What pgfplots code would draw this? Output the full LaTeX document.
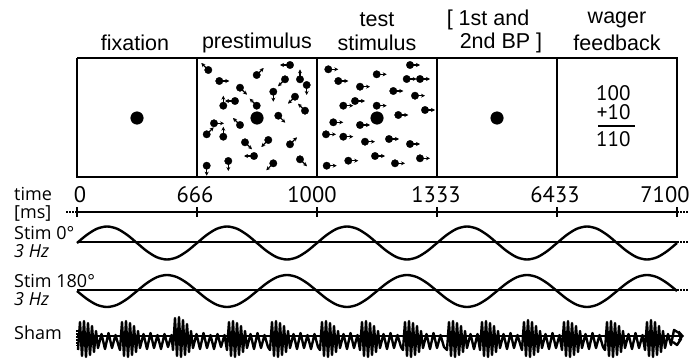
\documentclass[border=0pt]{standalone}
\usepackage{fontspec}
\setmainfont{Liberation Sans}
\newfontfamily\lowfont{PT Sans}
\newfontfamily\leftfont{Open Sans}
\usepackage{pgfplots}
\usepackage{pgfplotstable}
\pgfplotsset{compat=1.18}
\usetikzlibrary{arrows.meta}

\pgfplotstableread{
x y u v
208.3 70 -7 -7
219.3 81 10 0
240 87.7 7 7
256.7 75 7 -7
290 65 -10 0
285 79.3 -7 7
300 79.3 0 -10
306.7 85 0 10
273.3 91.7 0 10
295 96.7 -7 7
223.3 105.7 0 -10
235 101 -10 0
256.7 105.7 -7 -7
305 110.7 -7 -7
278.3 115.7 7 7
214 123.3 10 0
240 125 -7 -7
206.7 134.3 7 -7
223.3 136.7 0 -10
245 142.3 7 7
268.3 140 -7 7
290 144.3 7 -7
254 156 -10 0
300 159.3 7 7
228.3 161 0 10
273.3 163.3 -7 7
206.7 165.7 0 10
}\prestim

\pgfplotstableread{
x y u v
328.3 69.3 10 0
410 65 10 0
338.3 81 10 0
376.7 74.3 10 0
406.7 79 10 0
420 79 10 0
360 86.7 10 0
393.3 91 10 0
415 95.7 10 0
343.3 105.7 10 0
355 101 10 0
376.7 105.7 10 0
425 110 10 0
398.3 115 10 0
333.3 122.3 10 0
360 125 10 0
326 134.3 10 0
343.3 136.7 10 0
365 141.7 10 0
389 139 10 0
410 144 10 0
375 156 10 0
348.3 160.7 10 0
395 163.3 10 0
420 158.3 10 0
326.7 165.7 10 0
}\teststim

\pgfplotstableread{
x y
77 243
87 234.75
97 228.71
107 226.5
117 228.71
127 234.75
137 243
147 251.25
157 257.29
167 259.5
177 257.29
187 251.25
197 243
207 234.75
217 228.71
227 226.5
237 228.71
247 234.75
257 243
267 251.25
277 257.29
287 259.5
297 257.29
307 251.25
317 243
327 234.75
337 228.71
347 226.5
357 228.71
367 234.75
377 243
387 251.25
397 257.29
407 259.5
417 257.29
427 251.25
437 243
447 234.75
457 228.71
467 226.5
477 228.71
487 234.75
497 243
507 251.25
517 257.29
527 259.5
537 257.29
547 251.25
557 243
567 234.75
577 228.71
587 226.5
597 228.71
607 234.75
617 243
627 251.25
637 257.29
647 259.5
657 257.29
667 251.25
677 243
}\stimzero

\pgfplotstableread{
x y
77 291
87 299
97 304.86
107 307
117 304.86
127 299
137 291
147 283
157 277.14
167 275
177 277.14
187 283
197 291
207 299
217 304.86
227 307
237 304.86
247 299
257 291
267 283
277 277.14
287 275
297 277.14
307 283
317 291
327 299
337 304.86
347 307
357 304.86
367 299
377 291
387 283
397 277.14
407 275
417 277.14
427 283
437 291
447 299
457 304.86
467 307
477 304.86
487 299
497 291
507 283
517 277.14
527 275
537 277.14
547 283
557 291
567 299
577 304.86
587 307
597 304.86
607 299
617 291
627 283
637 277.14
647 275
657 277.14
667 283
677 291
}\stimpi

\pgfplotstableread{
x y
78 350
80 322
82 356
84 321
86 357
88 323
90 355
92 326
94 352
96 331
98 348
101.5 334
105 349
108.5 333
112 348
115.5 335
119 347
120 350
122 322
124 356
126 321
128 357
130 323
132 355
134 326
136 352
138 331
140 348
143.5 334
147 349
150.5 333
154 348
157.5 335
161 349
164.5 334
168 347
171.5 335
173 350
175 318
177 356
179 317
181 357
183 320
185 355
187 324
189 352
191 331
193 348
196.5 334
200 349
203.5 333
207 348
210.5 335
214 349
217.5 334
221 347
224.5 335
227 350
229 322
231 356
233 321
235 357
237 323
239 355
241 326
243 352
245 331
247 348
250.5 334
254 349
257.5 333
261 348
264.5 335
268 347
270 350
272 322
274 356
276 321
278 357
280 323
282 355
284 326
286 352
288 331
290 348
293.5 334
297 349
300.5 333
304 348
307.5 335
311 349
314.5 334
318 347
320 350
322 322
324 356
326 321
328 357
330 323
332 355
334 326
336 352
338 331
340 348
343.5 334
347 349
350.5 333
354 348
357.5 335
360 350
362 322
364 356
366 321
368 357
370 323
372 355
374 326
376 352
378 331
380 348
383.5 334
387 349
390.5 333
394 348
397.5 335
401 347
403 350
405 322
407 356
409 321
411 357
413 323
415 355
417 326
419 352
421 331
423 348
426.5 334
430 349
433.5 333
437 348
440.5 335
444 347
447 350
449 322
451 356
453 321
455 357
457 323
459 355
461 326
463 352
465 331
467 348
470.5 334
474 349
477.5 334
480 350
482 322
484 356
486 321
488 357
490 323
492 355
494 326
496 352
498 331
500 348
503.5 334
507 349
510.5 333
514 348
517.5 335
521 347
522 350
524 322
526 356
528 320
530 357
532 322
534 355
536 326
538 352
540 331
542 348
545.5 334
549 349
552.5 333
556 348
559.5 335
562 350
564 322
566 356
568 321
570 357
572 323
574 355
576 326
578 352
580 331
582 348
585.5 334
589 349
592.5 333
596 348
599.5 335
603 347
605 350
607 322
609 356
611 321
613 357
615 323
617 355
619 326
621 352
623 331
625 348
628.5 334
632 349
635.5 333
639 348
642.5 335
645 350
647 322
649 356
651 320
653 357
655 322
657 355
659 326
661 352
663 331
665 348
668 334
671 345
674 330
679 333
681 339
677 345
673 342
}\sham

\begin{document}
\begin{tikzpicture}
\begin{axis}[
  width=691pt, height=364pt, scale only axis,
  xmin=0, xmax=691, ymin=0, ymax=364, y dir=reverse,
  hide axis, clip=false,
]
\path (axis cs:0,0) rectangle (axis cs:691,364);

% boxes
\addplot[black, line width=2.2pt, line join=miter] coordinates {(77,58) (677,58) (677,177) (77,177) (77,58)};
\addplot[black, line width=2.2pt] coordinates {(197,58) (197,177)};
\addplot[black, line width=2.2pt] coordinates {(317,58) (317,177)};
\addplot[black, line width=2.2pt] coordinates {(437,58) (437,177)};
\addplot[black, line width=2.2pt] coordinates {(557,58) (557,177)};

% dots
\addplot[only marks, mark=*, mark size=6.3pt, black] coordinates {(137,118) (257,118) (377,118) (497,118)};
\addplot[only marks, mark=*, mark size=3.7pt, black] table[x=x,y=y] {\prestim};
\addplot[only marks, mark=*, mark size=3.7pt, black] table[x=x,y=y] {\teststim};
\addplot[black, line width=1.2pt, -{Stealth[length=4pt,width=4pt]},
  quiver={u=\thisrow{u}, v=\thisrow{v}}] table[x=x,y=y] {\prestim};
\addplot[black, line width=1.2pt, -{Stealth[length=4pt,width=4pt]},
  quiver={u=\thisrow{u}, v=\thisrow{v}}] table[x=x,y=y] {\teststim};

% wager text
\node[font=\lowfont\fontsize{21}{21}\selectfont, anchor=east] at (axis cs:634,93) {100};
\node[font=\lowfont\fontsize{21}{21}\selectfont, anchor=east] at (axis cs:634,112) {+10};
\node[font=\lowfont\fontsize{21}{21}\selectfont, anchor=east] at (axis cs:634,139) {110};
\addplot[black, line width=2pt] coordinates {(598,126) (635,126)};

% top labels
\begin{scope}[every node/.style={font=\fontsize{21.5}{21.5}\selectfont}]
\node at (axis cs:135,43) {fixation};
\node at (axis cs:257,43) {prestimulus};
\node at (axis cs:377,20) {test};
\node at (axis cs:377,43) {stimulus};
\node at (axis cs:488,20) {[ 1st and};
\node at (axis cs:501,43) {2nd BP ]};
\node at (axis cs:617,20) {wager};
\node at (axis cs:617,43) {feedback};
\end{scope}

% time axis
\addplot[black, line width=2.2pt] coordinates {(77,212) (677,212)};
\addplot[black, line width=2pt] coordinates {(77,207) (77,217)};
\addplot[black, line width=2pt] coordinates {(197,207) (197,217)};
\addplot[black, line width=2pt] coordinates {(317,207) (317,217)};
\addplot[black, line width=2pt] coordinates {(437,207) (437,217)};
\addplot[black, line width=2pt] coordinates {(557,207) (557,217)};
\addplot[black, line width=2pt] coordinates {(677,207) (677,217)};
\addplot[black, line width=1.8pt, dash pattern=on 1.5pt off 1.5pt] coordinates {(66,212) (77,212)};
\addplot[black, line width=1.8pt, dash pattern=on 1.5pt off 1.5pt] coordinates {(677,212) (689,212)};
\begin{scope}[every node/.style={font=\lowfont\fontsize{22.5}{22.5}\selectfont, inner sep=0pt}]
\node at (axis cs:80,195) {0};
\node at (axis cs:195,195) {666};
\node at (axis cs:312,195) {1000};
\node at (axis cs:436,195) {1333};
\node at (axis cs:555,195) {6433};
\node at (axis cs:665,195) {7100};
\end{scope}
\begin{scope}[every node/.style={font=\leftfont\fontsize{18}{18}\selectfont, inner sep=0pt}]
\node[anchor=base west] at (axis cs:14,200) {time};
\node[anchor=base west] at (axis cs:14,218) {[ms]};
\node[anchor=base west] at (axis cs:14,239) {Stim 0°};
\node[anchor=base west] at (axis cs:14,257) {\itshape 3 Hz};
\node[anchor=base west] at (axis cs:14,287) {Stim 180°};
\node[anchor=base west] at (axis cs:14,305) {\itshape 3 Hz};
\node[anchor=base west] at (axis cs:14,339) {Sham};
\end{scope}

% stim waves
\addplot[black, line width=2.2pt] coordinates {(77,242) (677,242)};
\addplot[black, line width=1.8pt, dash pattern=on 1.5pt off 1.5pt] coordinates {(677,242) (689,242)};
\addplot[black, line width=2.4pt, smooth] table[x=x,y=y] {\stimzero};
\addplot[black, line width=2.2pt] coordinates {(77,290) (677,290)};
\addplot[black, line width=1.8pt, dash pattern=on 1.5pt off 1.5pt] coordinates {(677,290) (689,290)};
\addplot[black, line width=2.4pt, smooth] table[x=x,y=y] {\stimpi};

% sham
\addplot[black, line width=2pt, -{Straight Barb[length=4pt,width=9pt]}] coordinates {(77,336) (684,336)};
\addplot[black, line width=1.6pt, dash pattern=on 1.5pt off 1.5pt] coordinates {(77,330) (77,346)};
\addplot[black, line width=2.4pt, line join=round] table[x=x,y=y] {\sham};

\end{axis}
\end{tikzpicture}
\end{document}
